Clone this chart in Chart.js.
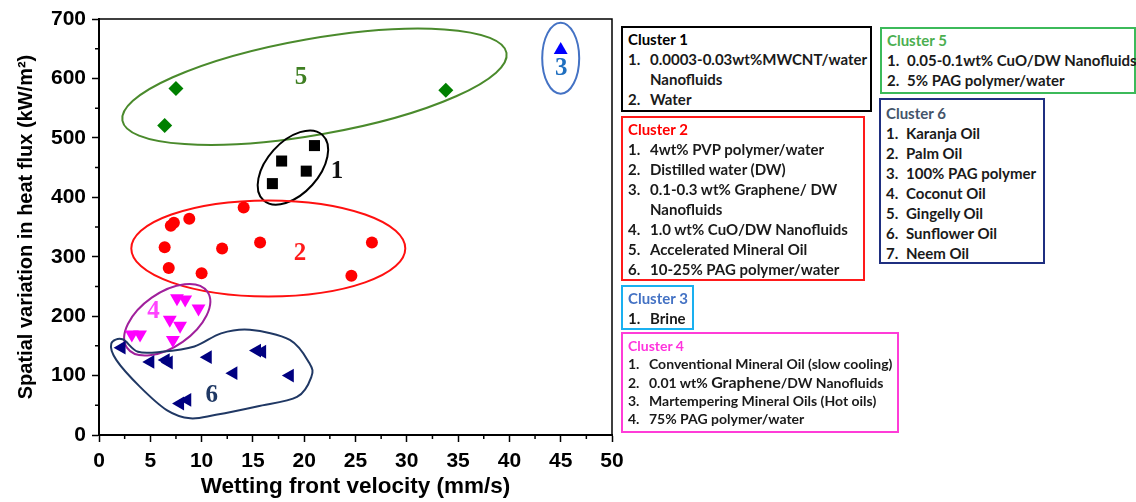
<!DOCTYPE html>
<html>
<head>
<meta charset="utf-8">
<script src="https://cdn.jsdelivr.net/npm/chart.js@4.4.1/dist/chart.umd.min.js"></script>
<style>
  html, body { margin: 0; padding: 0; background: #fff; }
  #wrap { position: relative; width: 1136px; height: 502px; overflow: hidden; }
  #plot { position: absolute; left: 0; top: 0; }
  .box {
    position: absolute; box-sizing: border-box; border: 2px solid #000;
    padding: 1px 0 0 5px; background: #fff;
    font-family: Lato, "Open Sans", sans-serif; font-weight: bold;
    font-size: 15px; line-height: 20px; color: #1a1a1a; white-space: nowrap;
  }
  .box .it span { display: inline-block; width: 22px; }
  .box.narrow .it span { width: 20px; }
  .box.small { font-size: 14px; line-height: 18px; padding-top: 3px; }
  .box.small .it span { width: 21px; }
</style>
</head>
<body>
<div id="wrap">
  <canvas id="plot" width="1136" height="502"></canvas>

  <div class="box" style="left:621px;top:26px;width:251px;height:86px;border-color:#000;">
    <div style="color:#000;">Cluster 1</div>
    <div class="it"><span>1.</span>0.0003-0.03wt%MWCNT/water</div>
    <div class="it"><span></span>Nanofluids</div>
    <div class="it"><span>2.</span>Water</div>
  </div>

  <div class="box" style="left:621px;top:116px;width:244px;height:165px;border-color:#ff1a1a;">
    <div style="color:#ff0000;">Cluster 2</div>
    <div class="it"><span>1.</span>4wt% PVP polymer/water</div>
    <div class="it"><span>2.</span>Distilled water (DW)</div>
    <div class="it"><span>3.</span>0.1-0.3 wt% Graphene/ DW</div>
    <div class="it"><span></span>Nanofluids</div>
    <div class="it"><span>4.</span>1.0 wt% CuO/DW Nanofluids</div>
    <div class="it"><span>5.</span>Accelerated Mineral Oil</div>
    <div class="it"><span>6.</span>10-25% PAG polymer/water</div>
  </div>

  <div class="box" style="left:621px;top:285px;width:73px;height:45px;border-color:#1ab0f0;padding-top:1px;">
    <div style="color:#4472c4;">Cluster 3</div>
    <div class="it"><span>1.</span>Brine</div>
  </div>

  <div class="box small" style="left:621px;top:332px;width:278px;height:101px;border-color:#ff3cd8;">
    <div style="color:#ff33dd;">Cluster 4</div>
    <div class="it"><span>1.</span>Conventional Mineral Oil (slow cooling)</div>
    <div class="it"><span>2.</span>0.01 wt% <span style="font-size:16px;width:auto;">Graphene</span>/DW Nanofluids</div>
    <div class="it"><span>3.</span>Martempering Mineral Oils (Hot oils)</div>
    <div class="it"><span>4.</span>75% PAG polymer/water</div>
  </div>

  <div class="box narrow" style="left:880px;top:27px;width:256px;height:67px;border-color:#3cba5a;">
    <div style="color:#4caf50;">Cluster 5</div>
    <div class="it"><span>1.</span>0.05-0.1wt% CuO/DW Nanofluids</div>
    <div class="it"><span>2.</span>5% PAG polymer/water</div>
  </div>

  <div class="box narrow" style="left:879px;top:98px;width:166px;height:166px;border-color:#1f2f80;padding-top:3px;">
    <div style="color:#44546a;">Cluster 6</div>
    <div class="it"><span>1.</span>Karanja Oil</div>
    <div class="it"><span>2.</span>Palm Oil</div>
    <div class="it"><span>3.</span>100% PAG polymer</div>
    <div class="it"><span>4.</span>Coconut Oil</div>
    <div class="it"><span>5.</span>Gingelly Oil</div>
    <div class="it"><span>6.</span>Sunflower Oil</div>
    <div class="it"><span>7.</span>Neem Oil</div>
  </div>
</div>

<script>
// wetting front velocity (mm/s) and spatial variation in heat flux (kW/m2) per cluster
var c1Velocity = [21.0, 17.8, 20.2, 16.9];
var c1Flux     = [487, 461, 444, 423];

var c2Velocity = [14.1, 7.3, 7.0, 8.8, 6.4, 12.0, 15.7, 6.8, 10.0, 24.6, 26.6];
var c2Flux     = [383, 357, 352, 364, 316, 314, 324, 281, 272, 268, 324];

var c3Velocity = [45.0];
var c3Flux     = [648];

var c4Velocity = [7.6, 8.4, 9.7, 6.9, 7.9, 7.2, 3.2, 4.0];
var c4Flux     = [230, 228, 213, 194, 184, 160, 169, 169];

var c5Velocity = [7.5, 6.4, 33.8];
var c5Flux     = [583, 521, 580];

var c6Velocity = [2.2, 5.0, 6.5, 6.8, 10.6, 13.1, 15.4, 15.9, 18.6, 7.9, 8.6];
var c6Flux     = [147, 123, 126, 122, 131, 104, 142, 140, 100, 53, 59];

var xTicks = [0, 5, 10, 15, 20, 25, 30, 35, 40, 45, 50];
var yTicks = [0, 100, 200, 300, 400, 500, 600, 700];

// hand-drawn cluster outlines: centre in data units, radii in pixels
var ellipses = [
  { x: 21.0, y: 586, rx: 195, ry: 48, rot: -10, color: '#4a8a2c' },
  { x: 18.9, y: 450, rx: 44, ry: 26, rot: -48, color: '#000000' },
  { x: 16.5, y: 314, rx: 137, ry: 48, rot: 0, color: '#ff1010' },
  { x: 45.0, y: 634, rx: 18.5, ry: 35.5, rot: 0, color: '#4472c4' },
  { x: 6.65, y: 194, rx: 49, ry: 27, rot: -35, color: '#a0209c' }
];
// free-form loop round cluster 6
var blobX = [1.2, 2.3, 3.8, 6.1, 9.3, 11.9, 14.7, 18.6, 20.5, 20.7, 19.3, 15.4, 11.4, 8.9, 6.6, 4.0, 1.7];
var blobY = [154, 161, 140, 140, 149, 171, 177, 160, 121, 98, 64, 48, 34, 28, 42, 81, 126];

var tags = [
  { t: '5', x: 19.7, y: 601, color: '#3f7f22' },
  { t: '1', x: 23.2, y: 443, color: '#111111' },
  { t: '2', x: 19.6, y: 305, color: '#ff1a1a' },
  { t: '3', x: 45.05, y: 616, color: '#1f6fc0' },
  { t: '4', x: 5.3, y: 207, color: '#ff44ff' },
  { t: '6', x: 11.0, y: 67, color: '#1f3864' }
];

function pts(xs, ys) {
  return xs.map(function (v, i) { return { x: v, y: ys[i] }; });
}

function closedSpline(ctx, p) {
  var n = p.length;
  ctx.moveTo(p[0][0], p[0][1]);
  for (var i = 0; i < n; i++) {
    var p0 = p[(i - 1 + n) % n], p1 = p[i], p2 = p[(i + 1) % n], p3 = p[(i + 2) % n];
    ctx.bezierCurveTo(
      p1[0] + (p2[0] - p0[0]) / 6, p1[1] + (p2[1] - p0[1]) / 6,
      p2[0] - (p3[0] - p1[0]) / 6, p2[1] - (p3[1] - p1[1]) / 6,
      p2[0], p2[1]);
  }
}

var decor = {
  id: 'decor',
  beforeDatasetsDraw: function (chart) {
    var ctx = chart.ctx, xs = chart.scales.x, ys = chart.scales.y, a = chart.chartArea;
    ctx.save();
    // frame top and right
    ctx.strokeStyle = '#000';
    ctx.lineWidth = 1.5;
    ctx.beginPath();
    ctx.moveTo(a.left, a.top);
    ctx.lineTo(a.right, a.top);
    ctx.lineTo(a.right, a.bottom);
    ctx.stroke();
    // minor ticks
    ctx.lineWidth = 1.5;
    ctx.beginPath();
    for (var v = 2.5; v < 50; v += 5) {
      var px = xs.getPixelForValue(v);
      ctx.moveTo(px, a.bottom);
      ctx.lineTo(px, a.bottom + 4);
    }
    for (var w = 50; w < 700; w += 100) {
      var py = ys.getPixelForValue(w);
      ctx.moveTo(a.left, py);
      ctx.lineTo(a.left - 4, py);
    }
    ctx.stroke();

    ctx.lineWidth = 2;
    ellipses.forEach(function (e) {
      ctx.strokeStyle = e.color;
      ctx.beginPath();
      ctx.ellipse(xs.getPixelForValue(e.x), ys.getPixelForValue(e.y), e.rx, e.ry,
        e.rot * Math.PI / 180, 0, Math.PI * 2);
      ctx.stroke();
    });
    var loop = blobX.map(function (v, i) {
      return [xs.getPixelForValue(v), ys.getPixelForValue(blobY[i])];
    });
    ctx.strokeStyle = '#203864';
    ctx.beginPath();
    closedSpline(ctx, loop);
    ctx.stroke();

    ctx.font = 'bold 25px "Liberation Serif", serif';
    ctx.textAlign = 'center';
    ctx.textBaseline = 'middle';
    tags.forEach(function (g) {
      ctx.fillStyle = g.color;
      ctx.fillText(g.t, xs.getPixelForValue(g.x), ys.getPixelForValue(g.y));
    });
    ctx.restore();
  }
};

var tickFont = { family: '"Liberation Sans", Arial, sans-serif', size: 21, weight: 'bold' };

new Chart(document.getElementById('plot'), {
  type: 'scatter',
  data: {
    datasets: [{
      data: pts(c1Velocity, c1Flux),
      pointStyle: 'rect', pointRadius: 7.8, pointBackgroundColor: '#000', pointBorderWidth: 0
    }, {
      data: pts(c2Velocity, c2Flux),
      pointStyle: 'circle', pointRadius: 6, pointBackgroundColor: '#ff0000', pointBorderWidth: 0
    }, {
      data: pts(c3Velocity, c3Flux),
      pointStyle: 'triangle', pointRadius: 8, pointBackgroundColor: '#0000ff', pointBorderWidth: 0
    }, {
      data: pts(c4Velocity, c4Flux),
      pointStyle: 'triangle', pointRotation: 180, pointRadius: 8, pointBackgroundColor: '#ff00ff', pointBorderWidth: 0
    }, {
      data: pts(c5Velocity, c5Flux),
      pointStyle: 'rectRot', pointRadius: 7.5, pointBackgroundColor: '#008000', pointBorderWidth: 0
    }, {
      data: pts(c6Velocity, c6Flux),
      pointStyle: 'triangle', pointRotation: -90, pointRadius: 8, pointBackgroundColor: '#000080', pointBorderWidth: 0
    }]
  },
  options: {
    responsive: false,
    animation: false,
    layout: { padding: { top: 19, right: 524, left: 0, bottom: 0 } },
    plugins: { legend: { display: false }, tooltip: { enabled: false } },
    scales: {
      x: {
        type: 'linear', min: 0, max: 50,
        afterBuildTicks: function (s) { s.ticks = xTicks.map(function (v) { return { value: v }; }); },
        afterFit: function (s) { s.height = 67; },
        ticks: { font: tickFont, color: '#000', padding: 7, maxRotation: 0 },
        grid: { drawOnChartArea: false, tickLength: 7, color: '#000', tickWidth: 1.5 },
        border: { color: '#000', width: 2 },
        title: {
          display: true, text: 'Wetting front velocity (mm/s)', color: '#000',
          font: { family: '"Liberation Sans", Arial, sans-serif', size: 22.5, weight: 'bold' },
          padding: { top: 0, bottom: 2 }
        }
      },
      y: {
        type: 'linear', min: 0, max: 700,
        afterBuildTicks: function (s) { s.ticks = yTicks.map(function (v) { return { value: v }; }); },
        afterFit: function (s) { s.width = 99; },
        ticks: { font: tickFont, color: '#000', padding: 6 },
        grid: { drawOnChartArea: false, tickLength: 7, color: '#000', tickWidth: 1.5 },
        border: { color: '#000', width: 2 },
        title: {
          display: true, text: 'Spatial variation in heat flux (kW/m²)', color: '#000',
          font: { family: '"Liberation Sans", Arial, sans-serif', size: 20, weight: 'bold' },
          padding: { top: 14, bottom: 0 }
        }
      }
    }
  },
  plugins: [decor]
});
</script>
</body>
</html>
